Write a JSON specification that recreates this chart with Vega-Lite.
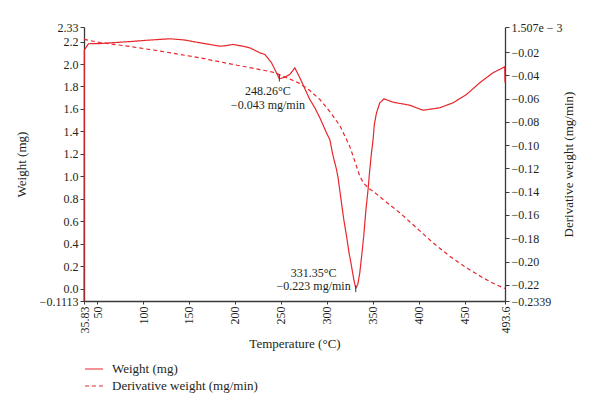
{
  "$schema": "https://vega.github.io/schema/vega-lite/v6.json",
  "autosize": {"type": "none"},
  "width": 421,
  "height": 274,
  "padding": {"left": 84, "top": 27, "right": 95, "bottom": 112},
  "background": "white",
  "config": {
    "view": {"stroke": null},
    "font": "Liberation Serif",
    "axis": {
      "labelFont": "Liberation Serif",
      "titleFont": "Liberation Serif",
      "labelFontSize": 12,
      "titleFontSize": 13,
      "titleFontWeight": "normal",
      "labelColor": "#231f20",
      "titleColor": "#231f20",
      "domainColor": "#3a3a3a",
      "domainWidth": 1.3,
      "tickColor": "#3a3a3a",
      "tickSize": 4,
      "grid": false,
      "labelOverlap": false,
      "labelBound": false,
      "labelFlush": false
    },
    "legend": {
      "labelFont": "Liberation Serif",
      "labelFontSize": 13,
      "labelColor": "#231f20"
    }
  },
  "datasets": {
    "tg": [
      {"temp": 35.83, "value": 2.219, "series": "Derivative weight (mg/min)"},
      {"temp": 53.2, "value": 2.192, "series": "Derivative weight (mg/min)"},
      {"temp": 85.8, "value": 2.156, "series": "Derivative weight (mg/min)"},
      {"temp": 118.4, "value": 2.116, "series": "Derivative weight (mg/min)"},
      {"temp": 161.9, "value": 2.055, "series": "Derivative weight (mg/min)"},
      {"temp": 198.1, "value": 1.996, "series": "Derivative weight (mg/min)"},
      {"temp": 227.1, "value": 1.951, "series": "Derivative weight (mg/min)"},
      {"temp": 241.5, "value": 1.927, "series": "Derivative weight (mg/min)"},
      {"temp": 252.4, "value": 1.892, "series": "Derivative weight (mg/min)"},
      {"temp": 270.5, "value": 1.827, "series": "Derivative weight (mg/min)"},
      {"temp": 281.4, "value": 1.764, "series": "Derivative weight (mg/min)"},
      {"temp": 292.3, "value": 1.684, "series": "Derivative weight (mg/min)"},
      {"temp": 303.1, "value": 1.577, "series": "Derivative weight (mg/min)"},
      {"temp": 314.0, "value": 1.452, "series": "Derivative weight (mg/min)"},
      {"temp": 324.9, "value": 1.265, "series": "Derivative weight (mg/min)"},
      {"temp": 332.1, "value": 1.09, "series": "Derivative weight (mg/min)"},
      {"temp": 335.7, "value": 1.001, "series": "Derivative weight (mg/min)"},
      {"temp": 340.1, "value": 0.936, "series": "Derivative weight (mg/min)"},
      {"temp": 344.7, "value": 0.897, "series": "Derivative weight (mg/min)"},
      {"temp": 352.0, "value": 0.855, "series": "Derivative weight (mg/min)"},
      {"temp": 361.0, "value": 0.793, "series": "Derivative weight (mg/min)"},
      {"temp": 379.2, "value": 0.675, "series": "Derivative weight (mg/min)"},
      {"temp": 397.3, "value": 0.541, "series": "Derivative weight (mg/min)"},
      {"temp": 415.4, "value": 0.407, "series": "Derivative weight (mg/min)"},
      {"temp": 433.5, "value": 0.288, "series": "Derivative weight (mg/min)"},
      {"temp": 451.7, "value": 0.185, "series": "Derivative weight (mg/min)"},
      {"temp": 469.7, "value": 0.095, "series": "Derivative weight (mg/min)"},
      {"temp": 482.4, "value": 0.04, "series": "Derivative weight (mg/min)"},
      {"temp": 493.6, "value": 0.0, "series": "Derivative weight (mg/min)"}
    ],
    "dtg": [
      {"temp": 35.83, "value": -0.2339, "series": "Weight (mg)"},
      {"temp": 36.16, "value": -0.0183, "series": "Weight (mg)"},
      {"temp": 40.72, "value": -0.0129, "series": "Weight (mg)"},
      {"temp": 53.2, "value": -0.0127, "series": "Weight (mg)"},
      {"temp": 85.8, "value": -0.011, "series": "Weight (mg)"},
      {"temp": 107.5, "value": -0.0097, "series": "Weight (mg)"},
      {"temp": 129.3, "value": -0.0086, "series": "Weight (mg)"},
      {"temp": 145.6, "value": -0.0097, "series": "Weight (mg)"},
      {"temp": 158.6, "value": -0.0116, "series": "Weight (mg)"},
      {"temp": 172.7, "value": -0.0135, "series": "Weight (mg)"},
      {"temp": 183.6, "value": -0.015, "series": "Weight (mg)"},
      {"temp": 191.2, "value": -0.0144, "series": "Weight (mg)"},
      {"temp": 197.7, "value": -0.0135, "series": "Weight (mg)"},
      {"temp": 208.6, "value": -0.015, "series": "Weight (mg)"},
      {"temp": 216.2, "value": -0.0164, "series": "Weight (mg)"},
      {"temp": 227.1, "value": -0.0207, "series": "Weight (mg)"},
      {"temp": 232.5, "value": -0.0221, "series": "Weight (mg)"},
      {"temp": 239.8, "value": -0.0293, "series": "Weight (mg)"},
      {"temp": 245.5, "value": -0.0385, "series": "Weight (mg)"},
      {"temp": 248.26, "value": -0.043, "series": "Weight (mg)"},
      {"temp": 254.2, "value": -0.0416, "series": "Weight (mg)"},
      {"temp": 259.6, "value": -0.0393, "series": "Weight (mg)"},
      {"temp": 265.1, "value": -0.0336, "series": "Weight (mg)"},
      {"temp": 270.5, "value": -0.0421, "series": "Weight (mg)"},
      {"temp": 276.0, "value": -0.0516, "series": "Weight (mg)"},
      {"temp": 281.4, "value": -0.0608, "series": "Weight (mg)"},
      {"temp": 286.8, "value": -0.0679, "series": "Weight (mg)"},
      {"temp": 292.3, "value": -0.0765, "series": "Weight (mg)"},
      {"temp": 299.5, "value": -0.0894, "series": "Weight (mg)"},
      {"temp": 303.1, "value": -0.0952, "series": "Weight (mg)"},
      {"temp": 306.7, "value": -0.1095, "series": "Weight (mg)"},
      {"temp": 310.4, "value": -0.1209, "series": "Weight (mg)"},
      {"temp": 312.1, "value": -0.1281, "series": "Weight (mg)"},
      {"temp": 315.8, "value": -0.1495, "series": "Weight (mg)"},
      {"temp": 318.3, "value": -0.1639, "series": "Weight (mg)"},
      {"temp": 321.3, "value": -0.1782, "series": "Weight (mg)"},
      {"temp": 323.8, "value": -0.1914, "series": "Weight (mg)"},
      {"temp": 326.7, "value": -0.204, "series": "Weight (mg)"},
      {"temp": 329.2, "value": -0.2154, "series": "Weight (mg)"},
      {"temp": 331.35, "value": -0.223, "series": "Weight (mg)"},
      {"temp": 333.5, "value": -0.2197, "series": "Weight (mg)"},
      {"temp": 335.7, "value": -0.2097, "series": "Weight (mg)"},
      {"temp": 337.9, "value": -0.194, "series": "Weight (mg)"},
      {"temp": 340.0, "value": -0.1782, "series": "Weight (mg)"},
      {"temp": 342.2, "value": -0.157, "series": "Weight (mg)"},
      {"temp": 344.7, "value": -0.1381, "series": "Weight (mg)"},
      {"temp": 346.6, "value": -0.1209, "series": "Weight (mg)"},
      {"temp": 348.4, "value": -0.1066, "series": "Weight (mg)"},
      {"temp": 350.2, "value": -0.0951, "series": "Weight (mg)"},
      {"temp": 351.5, "value": -0.0823, "series": "Weight (mg)"},
      {"temp": 353.9, "value": -0.0722, "series": "Weight (mg)"},
      {"temp": 357.5, "value": -0.0636, "series": "Weight (mg)"},
      {"temp": 362.1, "value": -0.0602, "series": "Weight (mg)"},
      {"temp": 371.9, "value": -0.0631, "series": "Weight (mg)"},
      {"temp": 390.1, "value": -0.0657, "series": "Weight (mg)"},
      {"temp": 404.5, "value": -0.07, "series": "Weight (mg)"},
      {"temp": 422.7, "value": -0.0679, "series": "Weight (mg)"},
      {"temp": 437.1, "value": -0.0636, "series": "Weight (mg)"},
      {"temp": 451.7, "value": -0.0565, "series": "Weight (mg)"},
      {"temp": 466.1, "value": -0.0464, "series": "Weight (mg)"},
      {"temp": 480.6, "value": -0.0378, "series": "Weight (mg)"},
      {"temp": 493.3, "value": -0.0327, "series": "Weight (mg)"},
      {"temp": 493.6, "value": -0.0462, "series": "Weight (mg)"}
    ],
    "notes": [
      {"temp": 235.8, "value": -0.0539, "label": "248.26°C"},
      {"temp": 235.8, "value": -0.0659, "label": "−0.043 mg/min"},
      {"temp": 285.5, "value": -0.2097, "label": "331.35°C"},
      {"temp": 285.5, "value": -0.2209, "label": "−0.223 mg/min"}
    ],
    "marks": [
      {"temp": 248.26, "top": -0.0393, "bottom": -0.0453},
      {"temp": 331.35, "top": -0.2206, "bottom": -0.2263}
    ]
  },
  "encoding": {
    "x": {
      "field": "temp",
      "type": "quantitative",
      "scale": {"domain": [35.83, 493.6], "nice": false, "zero": false},
      "axis": {
        "title": "Temperature (°C)",
        "values": [35.83, 50, 100, 150, 200, 250, 300, 350, 400, 450, 493.6],
        "labelExpr": "'' + datum.value",
        "labelAngle": 270,
        "tickSize": 3,
        "titlePadding": 4
      }
    }
  },
  "layer": [
    {
      "data": {"name": "tg"},
      "mark": {"type": "line", "strokeWidth": 1.2},
      "encoding": {
        "y": {
          "field": "value",
          "type": "quantitative",
          "scale": {"domain": [-0.1113, 2.33], "nice": false, "zero": false},
          "axis": {
            "orient": "left",
            "title": "Weight (mg)",
            "values": [-0.1113, 0, 0.2, 0.4, 0.6, 0.8, 1.0, 1.2, 1.4, 1.6, 1.8, 2.0, 2.2, 2.33],
            "labelExpr": "datum.value == 2.33 ? '2.33' : datum.value == -0.1113 ? '−0.1113' : format(datum.value, '.1f')",
            "labelOverlap": false,
            "titlePadding": 11
          }
        },
        "color": {
          "field": "series",
          "type": "nominal",
          "scale": {"domain": ["Weight (mg)", "Derivative weight (mg/min)"], "range": ["#e8262b", "#e8262b"]},
          "legend": {
            "title": null,
            "orient": "none",
            "legendX": 0,
            "legendY": 332,
            "direction": "vertical",
            "symbolType": "stroke",
            "symbolSize": 320,
            "symbolStrokeWidth": 1.2,
            "labelOffset": 8,
            "rowPadding": 0,
            "padding": 0
          }
        },
        "strokeDash": {
          "field": "series",
          "type": "nominal",
          "scale": {"domain": ["Weight (mg)", "Derivative weight (mg/min)"], "range": [[1, 0], [4, 3]]},
          "legend": {
            "title": null,
            "orient": "none",
            "legendX": 0,
            "legendY": 332,
            "direction": "vertical",
            "symbolType": "stroke",
            "symbolSize": 320,
            "symbolStrokeWidth": 1.2,
            "labelOffset": 8,
            "rowPadding": 0,
            "padding": 0
          }
        }
      }
    },
    {
      "data": {"name": "dtg"},
      "mark": {"type": "line", "strokeWidth": 1.2},
      "encoding": {
        "y": {
          "field": "value",
          "type": "quantitative",
          "scale": {"domain": [-0.2339, 0.001507], "nice": false, "zero": false},
          "axis": {
            "orient": "right",
            "title": "Derivative weight (mg/min)",
            "titleAngle": 270,
            "values": [-0.2339, -0.22, -0.2, -0.18, -0.16, -0.14, -0.12, -0.1, -0.08, -0.06, -0.04, -0.02, 0.001507],
            "labelExpr": "datum.value == 0.001507 ? '1.507e − 3' : datum.value == -0.2339 ? '−0.2339' : replace(format(datum.value, '.2f'), '-', '−')",
            "labelOverlap": false,
            "titlePadding": 13
          }
        },
        "color": {"field": "series", "type": "nominal"},
        "strokeDash": {"field": "series", "type": "nominal"}
      }
    },
    {
      "data": {"name": "marks"},
      "mark": {"type": "rule", "color": "#3a3a3a", "strokeWidth": 1},
      "encoding": {
        "y": {"field": "top", "type": "quantitative", "scale": {"domain": [-0.2339, 0.001507], "nice": false, "zero": false}, "axis": null},
        "y2": {"field": "bottom"}
      }
    },
    {
      "data": {"name": "notes"},
      "mark": {"type": "text", "font": "Liberation Serif", "fontSize": 12, "color": "#231f20", "align": "center", "baseline": "middle"},
      "encoding": {
        "y": {"field": "value", "type": "quantitative", "scale": {"domain": [-0.2339, 0.001507], "nice": false, "zero": false}, "axis": null},
        "text": {"field": "label"}
      }
    }
  ],
  "resolve": {"scale": {"y": "independent"}}
}
